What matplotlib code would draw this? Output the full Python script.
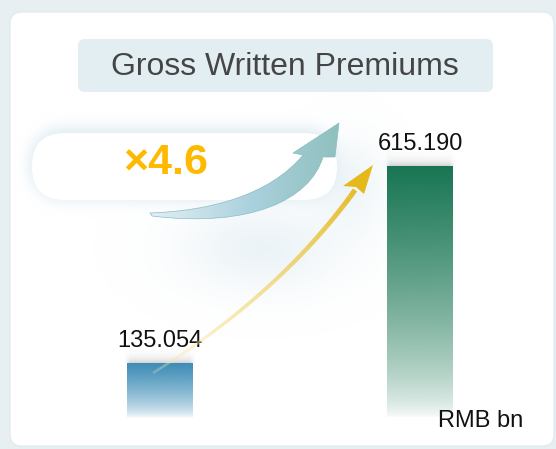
import numpy as np
import matplotlib.pyplot as plt
from matplotlib.patches import FancyBboxPatch, PathPatch, Polygon
from matplotlib.path import Path
from matplotlib.collections import LineCollection

# Data
years = ["Before", "After"]
premiums = [135.054, 615.190]
bar_colors = ["#3a8bb5", "#177552"]
multiple_label = "×4.6"
title = "Gross Written Premiums"
unit = "RMB bn"

W, H = 556, 449
plt.rcParams['font.family'] = ['Liberation Sans', 'DejaVu Sans']


def hex_rgb(c):
    c = c.lstrip('#')
    return np.array([int(c[i:i + 2], 16) for i in (0, 2, 4)]) / 255.0


def blur(img, sigma):
    """Separable gaussian blur with plain numpy."""
    r = int(3 * sigma)
    k = np.exp(-0.5 * (np.arange(-r, r + 1) / sigma) ** 2)
    k /= k.sum()
    out = np.apply_along_axis(lambda m: np.convolve(m, k, mode='same'), 1, img)
    out = np.apply_along_axis(lambda m: np.convolve(m, k, mode='same'), 0, out)
    return out


def round_rect_mask(x0, y0, x1, y1, r):
    yy, xx = np.mgrid[0:H, 0:W] + 0.5
    dx = np.maximum(np.maximum(x0 + r - xx, 0), xx - (x1 - r))
    dy = np.maximum(np.maximum(y0 + r - yy, 0), yy - (y1 - r))
    return ((dx ** 2 + dy ** 2) <= r ** 2).astype(float)


def draw_background(deco):
    deco.add_patch(plt.Rectangle((0, 0), W, H, color="#e7eff3", zorder=0))
    deco.add_patch(FancyBboxPatch((10, 12), 544, 434, boxstyle="round,pad=0,rounding_size=12",
                                  fc="white", ec="#dfe9ee", lw=0.8, zorder=1))

    # soft blue glow behind the pill and in the middle of the card
    yy, xx = np.mgrid[0:H, 0:W] + 0.5
    halo = blur(round_rect_mask(30, 128, 337, 200, 33), 7) * 0.75
    blob = 0.42 * np.exp(-0.5 * (((xx - 262) / 55) ** 2 + ((yy - 248) / 30) ** 2))
    blob2 = 0.35 * np.exp(-0.5 * (((xx - 350) / 26) ** 2 + ((yy - 185) / 32) ** 2))
    alpha = 1 - (1 - halo) * (1 - blob) * (1 - blob2)
    img = np.zeros((H, W, 4))
    img[..., :3] = hex_rgb("#d2e4ec")
    img[..., 3] = np.clip(alpha, 0, 1)
    deco.imshow(img, extent=(0, W, H, 0), aspect='auto', zorder=2, interpolation='bilinear')

    # title box and pill
    deco.add_patch(FancyBboxPatch((78, 39), 415, 53, boxstyle="round,pad=0,rounding_size=7",
                                  fc="#e3eef3", ec="none", zorder=3))
    deco.text(285, 67, title, fontsize=23, color="#454545", ha='center', va='center', zorder=4)
    deco.add_patch(FancyBboxPatch((32, 133), 305, 67, boxstyle="round,pad=0,rounding_size=33",
                                  fc="white", ec="none", zorder=3))
    deco.text(166, 163, multiple_label, fontsize=31, fontweight='bold', color="#ffb900",
              ha='center', va='center', zorder=4)


def draw_arrows(over):
    # teal swoosh arrow
    verts = [(150, 213), (210, 211), (270, 195), (303, 155), (293, 153), (339, 123),
             (335, 157), (323, 157), (310, 200), (250, 228), (152, 216), (150, 213)]
    codes = [Path.MOVETO, Path.CURVE4, Path.CURVE4, Path.CURVE4, Path.LINETO, Path.LINETO,
             Path.LINETO, Path.LINETO, Path.CURVE4, Path.CURVE4, Path.CURVE4, Path.CLOSEPOLY]
    patch = PathPatch(Path(verts, codes), fc='none', ec="#8dbcc6", lw=0.5, zorder=5)
    over.add_patch(patch)
    s = np.linspace(0, 1, 200)
    c0, c1, c2 = hex_rgb("#e4f0f4"), hex_rgb("#a9d0dd"), hex_rgb("#8fc0bc")
    cols = np.where(s[:, None] < 0.55, c0 + (c1 - c0) * (s[:, None] / 0.55),
                    c1 + (c2 - c1) * ((s[:, None] - 0.55) / 0.45))
    grad = np.tile(cols[None, :, :], (2, 1, 1))
    im = over.imshow(grad, extent=(148, 342, 230, 120), aspect='auto', zorder=4,
                     interpolation='bilinear')
    im.set_clip_path(patch)

    # yellow curved arrow
    p0, c, p2 = np.array([153, 373]), np.array([282, 292]), np.array([355, 190])
    t = np.linspace(0, 1, 120)[:, None]
    pts = (1 - t) ** 2 * p0 + 2 * (1 - t) * t * c + t ** 2 * p2
    segs = np.stack([pts[:-1], pts[1:]], axis=1)
    tm = t[:-1, 0]
    ya, yb = hex_rgb("#fff0c0"), hex_rgb("#e5b81c")
    rgba = np.zeros((len(tm), 4))
    rgba[:, :3] = ya + (yb - ya) * tm[:, None] ** 0.8
    rgba[:, 3] = 0.25 + 0.75 * tm ** 0.7
    over.add_collection(LineCollection(segs, colors=rgba, linewidths=1.8 + 1.9 * tm,
                                       capstyle='butt', zorder=6))
    over.add_patch(Polygon([(373, 165), (343, 186), (356, 187), (364, 194)],
                           closed=True, fc="#e5b81c", ec='none', zorder=6))


def draw_bars(ax):
    width = 0.2515
    bars = ax.bar(range(len(premiums)), premiums, width=width, color='none', zorder=2)
    px = ax.get_ylim()[1] / (ax.get_position().height * H)
    t = np.linspace(0, 1, 256)
    for i, (rect, col) in enumerate(zip(bars, bar_colors)):
        x0, w, h = rect.get_x(), rect.get_width(), rect.get_height()
        # soft gray shadow above the bar top
        sv = np.linspace(0, 1, 40)
        sh = np.linspace(-1, 1, 60)
        prof = np.exp(-3.0 * sv)[:, None] * np.clip((1 - np.abs(sh)) * 6, 0, 1)[None, :]
        shadow = np.zeros((40, 60, 4))
        shadow[..., :3] = 0.45
        shadow[..., 3] = 0.32 * prof
        pad = 0.012
        ax.imshow(shadow, extent=(x0 - pad, x0 + w + pad, h, h + 14 * px), origin='lower',
                  aspect='auto', zorder=1, interpolation='bilinear')
        grad = np.zeros((256, 1, 4))
        grad[:, 0, :3] = hex_rgb(col)
        grad[:, 0, 3] = t ** 0.65
        im = ax.imshow(grad, extent=(x0, x0 + w, 0, h), origin='lower', aspect='auto',
                       zorder=2, interpolation='bilinear')
        im.set_clip_path(rect)
        ax.annotate(f"{premiums[i]:.3f}", (i, h), xytext=(0, 11.5), textcoords='offset points',
                    ha='center', va='baseline', fontsize=17, color="#111111", zorder=5)
    ax.set_xlim(-0.5, 1.5)
    ax.set_ylim(0, 700)
    ax.axis('off')


def main():
    fig = plt.figure(figsize=(W / 100, H / 100), dpi=100)

    deco = fig.add_axes([0, 0, 1, 1], zorder=0)
    deco.set_xlim(0, W)
    deco.set_ylim(H, 0)
    deco.axis('off')
    draw_background(deco)

    # bar axes placed so that bar bottoms sit at the fade line
    ax = fig.add_axes([29.25 / W, (H - 418.4) / H, 521 / W, 287.2 / H], zorder=1)
    ax.patch.set_alpha(0)
    ax.set_ylim(0, 700)
    draw_bars(ax)

    over = fig.add_axes([0, 0, 1, 1], zorder=2)
    over.set_xlim(0, W)
    over.set_ylim(H, 0)
    over.patch.set_alpha(0)
    over.axis('off')
    draw_arrows(over)

    fig.text(523 / W, 1 - 427 / H, unit, ha='right', va='baseline', fontsize=17, color="#111111")

    fig.savefig("out.png", dpi=100)


if __name__ == "__main__":
    main()
